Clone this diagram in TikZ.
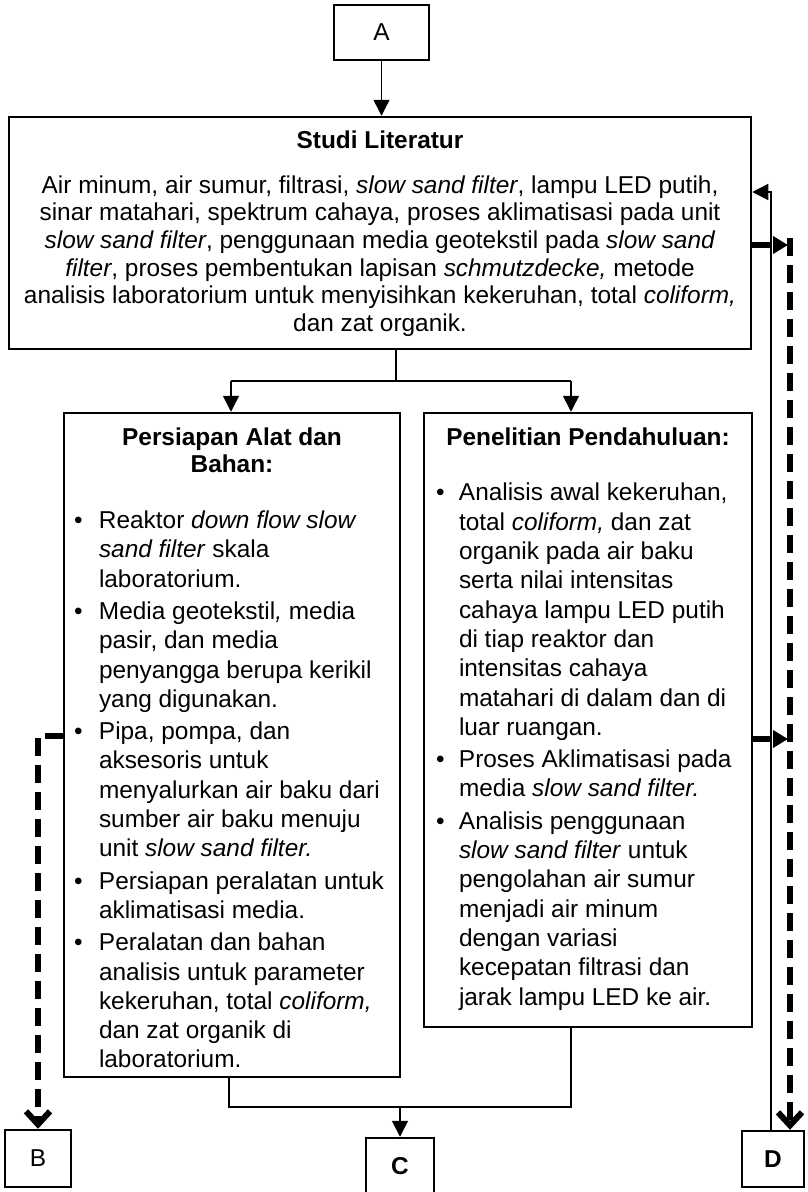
\documentclass[tikz,border=0pt]{standalone}
\usepackage{fontspec}
\setmainfont{Liberation Sans}
\usetikzlibrary{arrows.meta}
\begin{document}
\begin{tikzpicture}[x=1pt,y=-1pt,
  box/.style={draw, line width=2.5pt, inner sep=0pt, fill=white},
  txt/.style={inner sep=0pt, anchor=north},
  bigfont/.style={font=\fontsize{24.4}{27.6}\selectfont},
  listfont/.style={font=\fontsize{24.4}{29.3}\selectfont},
  thinline/.style={line width=1.5pt},
  thinarrow/.style={line width=1.5pt, -{Triangle[length=16pt,width=16pt]}},
  boldarrow/.style={line width=6pt, dash pattern=on 18pt off 6pt, -{Triangle[length=15pt,width=17pt]}},
  boldbarb/.style={line width=6pt, dash pattern=on 18pt off 9pt, -{Straight Barb[length=13pt,width=24pt]}}
]
\useasboundingbox (0,0) rectangle (807,1192);

% boxes
\node[box, minimum width=95pt, minimum height=55pt, bigfont] (A) at (381.5,32.5) {A};
\node[box, minimum width=742pt, minimum height=232pt] (studi) at (380,233) {};
\node[box, minimum width=336pt, minimum height=664pt] (prep) at (232,745) {};
\node[box, minimum width=328pt, minimum height=614pt] (pen) at (588,720) {};
\node[box, minimum width=66pt, minimum height=57pt, bigfont] (B) at (38,1158.5) {B};
\node[box, minimum width=68pt, minimum height=56pt, bigfont] (C) at (400,1166) {\textbf{C}};
\node[box, minimum width=62pt, minimum height=56pt, bigfont] (D) at (773,1159) {\textbf{D}};

% texts
\node[txt, bigfont] (studitext) at (380,128.7) {%
\begin{tabular}{@{}c@{}}
\textbf{Studi Literatur}\\[17.4pt]
Air minum, air sumur, filtrasi, \textit{slow sand filter}, lampu LED putih,\\
sinar matahari, spektrum cahaya, proses aklimatisasi pada unit\\
\textit{slow sand filter}, penggunaan media geotekstil pada \textit{slow sand}\\
\textit{filter}, proses pembentukan lapisan \textit{schmutzdecke,} metode\\
analisis laboratorium untuk menyisihkan kekeruhan, total \textit{coliform,}\\
dan zat organik.
\end{tabular}};

\node[txt, listfont] (preptext) at (232,424.5) {%
\begin{tabular}{@{}p{25pt}@{}p{291pt}@{}}
\multicolumn{2}{@{}c@{}}{\textbf{Persiapan Alat dan}}\\[-1.6pt]
\multicolumn{2}{@{}c@{}}{\textbf{Bahan:}}\\[26.3pt]
\textbullet & Reaktor \textit{down flow slow}\\
 & \textit{sand filter} skala\\
 & laboratorium.\\[3pt]
\textbullet & Media geotekstil\textit{,} media\\
 & pasir, dan media\\
 & penyangga berupa kerikil\\
 & yang digunakan.\\[3pt]
\textbullet & Pipa, pompa, dan\\
 & aksesoris untuk\\
 & menyalurkan air baku dari\\
 & sumber air baku menuju\\
 & unit \textit{slow sand filter.}\\[3pt]
\textbullet & Persiapan peralatan untuk\\
 & aklimatisasi media.\\[3pt]
\textbullet & Peralatan dan bahan\\
 & analisis untuk parameter\\
 & kekeruhan, total \textit{coliform,}\\
 & dan zat organik di\\
 & laboratorium.
\end{tabular}};

\node[txt, listfont] (pentext) at (588,424.5) {%
\begin{tabular}{@{}p{23pt}@{}p{281pt}@{}}
\multicolumn{2}{@{}c@{}}{\textbf{Penelitian Pendahuluan:}}\\[26.4pt]
\textbullet & Analisis awal kekeruhan,\\
 & total \textit{coliform,} dan zat\\
 & organik pada air baku\\
 & serta nilai intensitas\\
 & cahaya lampu LED putih\\
 & di tiap reaktor dan\\
 & intensitas cahaya\\
 & matahari di dalam dan di\\
 & luar ruangan.\\[3pt]
\textbullet & Proses Aklimatisasi pada\\
 & media \textit{slow sand filter.}\\[3pt]
\textbullet & Analisis penggunaan\\
 & \textit{slow sand filter} untuk\\
 & pengolahan air sumur\\
 & menjadi air minum\\
 & dengan variasi\\
 & kecepatan filtrasi dan\\
 & jarak lampu LED ke air.
\end{tabular}};

% coordinates
\coordinate (sL) at (231,381);
\coordinate (sR) at (571,381);
\coordinate (sM) at (396,381);
\coordinate (mL) at (229,1107);
\coordinate (mR) at (571,1107);
\coordinate (bus) at (790,238);
\coordinate (y1) at (0,245);
\coordinate (y2) at (0,739);
\coordinate (ret) at (771,192);
\coordinate (lc) at (38,736);

% thin connectors
\draw[thinarrow] (A.south) -- (A.south |- studi.north);
\draw[thinline] (studi.south -| sM) -- (sM);
\draw[thinline] (sL) -- (sR);
\draw[thinarrow] (sL) -- (sL |- prep.north);
\draw[thinarrow] (sR) -- (sR |- pen.north);
\draw[thinline] (prep.south -| mL) |- (mR) -- (pen.south -| mR);
\draw[thinarrow] (C.north |- mL) -- (C.north);
\draw[thinarrow] (ret |- D.north) |- (studi.east |- ret);

% bold dashed connectors
\draw[boldarrow] (studi.east |- y1) -- ([xshift=-2pt]bus |- y1);
\draw[boldarrow] (pen.east |- y2) -- ([xshift=-2pt]bus |- y2);
\draw[boldbarb] (bus) -- (bus |- D.north);
\draw[boldbarb] (prep.west |- lc) -| (lc |- B.north);
\end{tikzpicture}
\end{document}
